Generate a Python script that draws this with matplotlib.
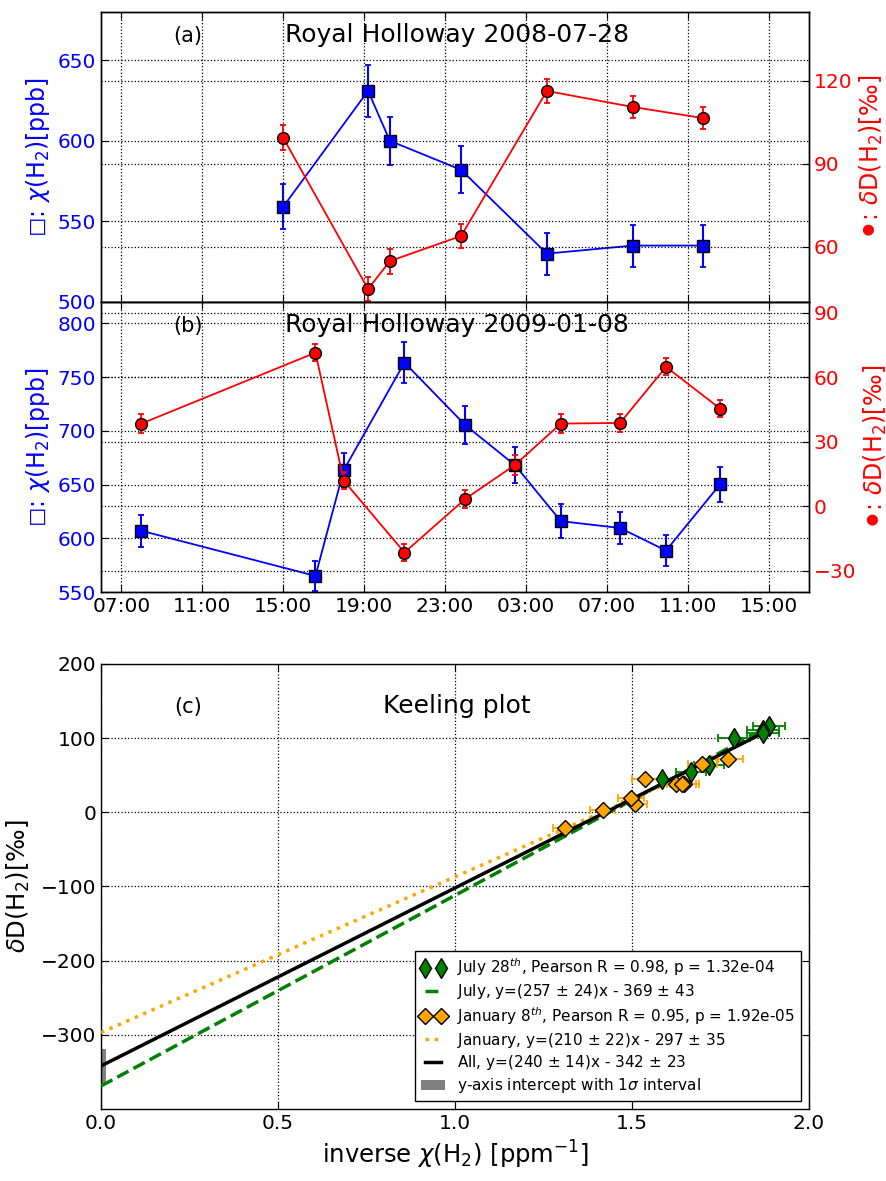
import matplotlib
matplotlib.use('Agg')
from matplotlib import pyplot as plt
from matplotlib.ticker import FuncFormatter
import numpy as np

plt.rcParams['font.family'] = ['DejaVu Sans']
plt.rcParams['mathtext.fontset'] = 'dejavusans'
plt.rcParams['xtick.direction'] = 'in'
plt.rcParams['ytick.direction'] = 'in'
plt.rcParams['xtick.major.size'] = 5
plt.rcParams['ytick.major.size'] = 5
plt.rcParams['axes.linewidth'] = 1.0

# Royal Holloway 2008-07-28 (hora desde las 00:00 del primer dia)
t_jul = [15.0, 19.2, 20.28, 23.8, 28.04, 32.28, 35.74]
h2_jul = [559, 631, 600, 582, 530, 535, 535]
h2_jul_err = [14, 16, 15, 14.5, 13, 13, 13]
dd_jul = [99.5, 44.7, 54.8, 63.9, 116.4, 110.6, 106.6]
dd_jul_err = [4.5, 4.3, 4.5, 4.5, 4.3, 4.0, 4.0]

# Royal Holloway 2009-01-08
t_jan = [8.0, 16.6, 18.0, 21.0, 24.0, 26.47, 28.73, 31.66, 33.93, 36.6]
h2_jan = [607, 565, 663.5, 763.6, 705.5, 668, 616, 609.6, 588.6, 650.2]
h2_jan_err = [15, 14, 16, 19, 17.5, 16.7, 15.5, 15, 14.4, 16]
dd_jan = [38.4, 71.4, 11.8, -21.6, 3.3, 19.2, 38.4, 38.7, 64.8, 45.4]
dd_jan_err = [4.5, 4.0, 4.0, 4.0, 4.0, 4.5, 4.5, 4.0, 4.0, 4.0]

# ajustes Keeling: pendiente, intercepto, error intercepto
fit_names = ['July', 'January', 'All']
fit_slope = [257, 210, 240]
fit_slope_err = [24, 22, 14]
fit_icpt = [-369, -297, -342]
fit_icpt_err = [43, 35, 23]

hour_ticks = [7, 11, 15, 19, 23, 27, 31, 35, 39]

fmt_hora = FuncFormatter(lambda v, p: '%02d:00' % (int(round(v)) % 24))

fig = plt.figure(figsize=(8.87, 11.81), dpi=100)
ax_a = fig.add_axes([0.1139, 0.7443, 0.7982, 0.2456])
ax_b = fig.add_axes([0.1139, 0.4987, 0.7982, 0.2456], sharex=ax_a)
ax_c = fig.add_axes([0.1139, 0.0610, 0.7982, 0.3768])


def panel(ax, t, h2, h2e, dd, dde, ylim_l, yt_l, ylim_r, yt_r, letra, titulo):
    ax.errorbar(t, h2, yerr=h2e, fmt='s-', color='blue', ms=8.5, mec='k',
                lw=1.3, elinewidth=1.5, capsize=2.5, capthick=1.3)
    ax.set_ylim(ylim_l)
    ax.set_yticks(yt_l)
    ax.set_xlim(6, 41)
    ax.set_xticks(hour_ticks)
    ax.xaxis.set_major_formatter(fmt_hora)
    ax.tick_params(labelsize=14.5, top=True)
    ax.tick_params(axis='y', labelcolor='blue')
    ax.grid(True, ls=':', color='k', lw=0.9)
    ax.set_ylabel(u'\u25fb: $\\chi(\\mathrm{H_2})$[ppb]', color='blue', fontsize=17)
    ax2 = ax.twinx()
    ax2.errorbar(t, dd, yerr=dde, fmt='o-', color='red', ms=8.5, mec='k',
                 lw=1.3, elinewidth=1.3, capsize=2.5, capthick=1.3)
    ax2.set_ylim(ylim_r)
    ax2.set_yticks(yt_r)
    ax2.tick_params(labelsize=14.5, labelcolor='red')
    ax2.grid(True, ls=':', color='k', lw=0.9)
    ax2.set_ylabel(u'\u26ab: $\\delta\\mathrm{D(H_2)}$[\u2030]', color='red', fontsize=17)
    ax.text(0.123, 0.8966, letra, transform=ax.transAxes, ha='center', va='baseline', fontsize=15)
    ax.text(0.503, 0.8966, titulo, transform=ax.transAxes, ha='center', va='baseline', fontsize=18)
    return ax2


panel(ax_a, t_jul, h2_jul, h2_jul_err, dd_jul, dd_jul_err,
      (500, 680), [500, 550, 600, 650], (40, 145), [60, 90, 120],
      '(a)', 'Royal Holloway 2008-07-28')
plt.setp(ax_a.get_xticklabels(), visible=False)
panel(ax_b, t_jan, h2_jan, h2_jan_err, dd_jan, dd_jan_err,
      (550, 820), [550, 600, 650, 700, 750, 800], (-40, 95), [-30, 0, 30, 60, 90],
      '(b)', 'Royal Holloway 2009-01-08')

# Keeling plot: 1/chi en ppm^-1
inv_jul = 1000.0 / np.array(h2_jul)
inv_jul_err = 1000.0 * np.array(h2_jul_err) / np.array(h2_jul) ** 2
inv_jan = 1000.0 / np.array(h2_jan)
inv_jan_err = 1000.0 * np.array(h2_jan_err) / np.array(h2_jan) ** 2

ax_c.errorbar(inv_jul, dd_jul, xerr=inv_jul_err, yerr=dd_jul_err, fmt='none',
              ecolor='green', elinewidth=1.3, capsize=3, capthick=1.3, zorder=2)
ax_c.errorbar(inv_jan, dd_jan, xerr=inv_jan_err, yerr=dd_jan_err, fmt='none',
              ecolor='orange', elinewidth=1.3, capsize=3, capthick=1.3, zorder=2)

xmax = [inv_jul.max(), inv_jan.max(), max(inv_jul.max(), inv_jan.max())]
estilos = [dict(color='green', ls='--'), dict(color='orange', ls=':'), dict(color='k', ls='-')]
lineas = []
for i in range(3):
    xx = np.linspace(0, xmax[i], 50)
    etiqueta = '%s, y=(%d $\\pm$ %d)x - %d $\\pm$ %d' % (fit_names[i], fit_slope[i], fit_slope_err[i],
                                                       -fit_icpt[i], fit_icpt_err[i])
    l, = ax_c.plot(xx, fit_slope[i] * xx + fit_icpt[i], lw=2.5, zorder=3, label=etiqueta, **estilos[i])
    lineas.append(l)

p_jul, = ax_c.plot(inv_jul, dd_jul, 'd', color='green', mec='k', ms=10, zorder=4,
                   label='July 28$^{th}$, Pearson R = 0.98, p = 1.32e-04')
p_jan, = ax_c.plot(inv_jan, dd_jan, 'D', color='orange', mec='k', ms=8.5, zorder=4,
                   label='January 8$^{th}$, Pearson R = 0.95, p = 1.92e-05')

barra = ax_c.bar(0, 2 * fit_icpt_err[2], bottom=fit_icpt[2] - fit_icpt_err[2], width=0.03,
                 color='gray', zorder=1, label='y-axis intercept with 1$\\sigma$ interval')

ax_c.set_xlim(0, 2)
ax_c.set_ylim(-400, 200)
ax_c.set_xticks([0, 0.5, 1.0, 1.5, 2.0])
ax_c.set_yticks([-300, -200, -100, 0, 100, 200])
ax_c.tick_params(labelsize=14.5, top=True, right=True)
ax_c.grid(True, ls=':', color='k', lw=0.9)
ax_c.set_xlabel('inverse $\\chi(\\mathrm{H_2})$ [ppm$^{-1}$]', fontsize=17.5)
ax_c.set_ylabel(u'$\\delta\\mathrm{D(H_2)}$[\u2030]', fontsize=17.5, labelpad=6)
ax_c.text(0.123, 0.8906, '(c)', transform=ax_c.transAxes, ha='center', va='baseline', fontsize=15)
ax_c.text(0.503, 0.8906, 'Keeling plot', transform=ax_c.transAxes, ha='center', va='baseline', fontsize=18)

leg = ax_c.legend(handles=[p_jul, lineas[0], p_jan, lineas[1], lineas[2], barra],
                  loc='lower right', fontsize=11, numpoints=2, handlelength=1.6,
                  labelspacing=0.25, fancybox=False, framealpha=1, edgecolor='k')
leg.get_frame().set_linewidth(1.0)

plt.savefig('out.png', dpi=100)
